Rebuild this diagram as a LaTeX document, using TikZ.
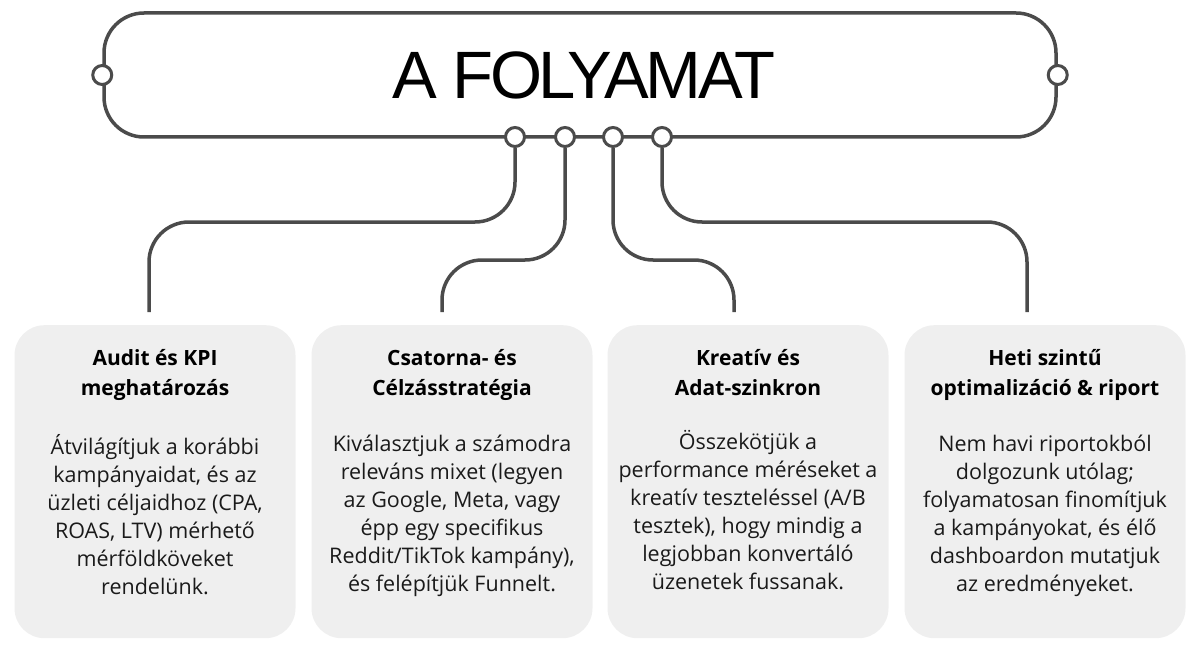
\documentclass[tikz,border=0pt]{standalone}
\usepackage{fontspec}
\setmainfont{Open Sans}
\newfontfamily\cabfont[LetterSpace=-5]{Liberation Sans}
\usetikzlibrary{positioning}
\definecolor{linea}{HTML}{4B4B4B}
\definecolor{caja}{HTML}{EFEFEF}
\definecolor{tinta}{HTML}{1A1A1A}

\tikzset{
  wire/.style={draw=linea,line width=3.5pt,rounded corners=40pt},
  bola/.style={circle,draw=linea,fill=white,line width=3pt,minimum size=19pt,inner sep=0pt},
  paso/.style={fill=caja,rounded corners=30pt,minimum width=281pt,minimum height=313pt,anchor=north},
  titulo/.style={font=\bfseries\fontsize{21}{30}\selectfont,text=black,align=center,anchor=north,inner sep=0pt},
  texto/.style={font=\fontsize{21.5}{28}\selectfont,text=tinta,align=center,anchor=north,inner sep=0pt}
}

\begin{document}
\begin{tikzpicture}[x=1pt,y=-1pt]
  \useasboundingbox (0,0) rectangle (1200,650);
  % cabecera
  \node[draw=linea,line width=3.5pt,rounded corners=40pt,minimum width=952pt,minimum height=124pt] (cab) at (580,75) {};
  \node[font=\cabfont\fontsize{67}{67}\selectfont,xshift=4pt] (tit) at (cab.center) {A FOLYAMAT};
  \node[bola] (ci) at (cab.west) {};
  \node[bola] (cd) at (cab.east) {};
  \foreach \i/\x in {1/515,2/565,3/613,4/662} \node[bola] (c\i) at (\x,137) {};

  % pasos
  \node[paso] (p1) at (155,325) {};
  \node[paso] (p2) at (452,325) {};
  \node[paso] (p3) at (748,325) {};
  \node[paso] (p4) at (1045,325) {};

  \node[titulo,below=24pt of p1.north] (t1) {Audit és KPI\\meghatározás};
  \node[titulo,below=24pt of p2.north] (t2) {Csatorna- és\\Célzásstratégia};
  \node[titulo,below=24pt of p3.north] (t3) {Kreatív és\\Adat-szinkron};
  \node[titulo,below=24pt of p4.north] (t4) {Heti szintű\\optimalizáció \& riport};

  \node[texto,below=34pt of t1] (d1) {Átvilágítjuk a korábbi\\kampányaidat, és az\\üzleti céljaidhoz (CPA,\\ROAS, LTV) mérhető\\mérföldköveket\\rendelünk.};
  \node[texto,below=34pt of t2] (d2) {Kiválasztjuk a számodra\\releváns mixet (legyen\\az Google, Meta, vagy\\épp egy specifikus\\Reddit/TikTok kampány),\\és felépítjük Funnelt.};
  \node[texto,below=34pt of t3] (d3) {Összekötjük a\\performance méréseket a\\kreatív teszteléssel (A/B\\tesztek), hogy mindig a\\legjobban konvertáló\\üzenetek fussanak.};
  \node[texto,below=34pt of t4] (d4) {Nem havi riportokból\\dolgozunk utólag;\\folyamatosan finomítjuk\\a kampányokat, és élő\\dashboardon mutatjuk\\az eredményeket.};

  % conectores
  \coordinate (h1) at (0,222);
  \coordinate (h2) at (0,260);
  \coordinate (k1) at (149,312);
  \coordinate (k2) at (442,312);
  \coordinate (k3) at (734,312);
  \coordinate (k4) at (1027,312);
  \foreach \i/\h in {1/h1,2/h2,3/h2,4/h1} \draw[wire] (c\i.south) |- (k\i |- \h) -- (k\i);
\end{tikzpicture}
\end{document}
